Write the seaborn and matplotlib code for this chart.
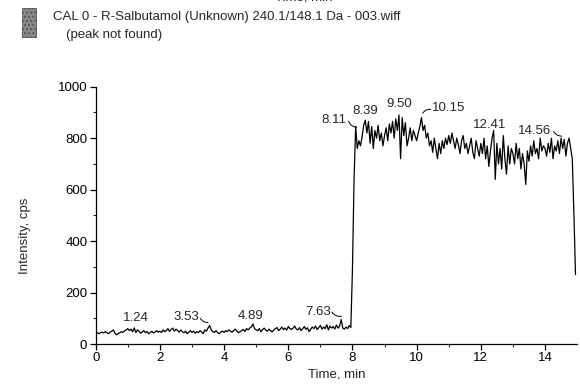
import numpy as np
import pandas as pd
import matplotlib
matplotlib.use("Agg")
import matplotlib.pyplot as plt
import seaborn as sns
from matplotlib.patches import Rectangle

# ---- data ----
scan_start = 0.0
scan_step = 0.05
intensity = [
    # 0-1 min
    42, 45, 40, 44, 46, 43, 48, 44, 40, 46, 50, 55, 42, 36, 40, 44, 48, 45, 52, 55,
    # 1-2
    60, 52, 58, 48, 63, 45, 55, 50, 42, 47, 52, 44, 49, 40, 45, 50, 43, 47, 52, 46,
    # 2-3
    50, 45, 55, 48, 52, 60, 49, 57, 62, 50, 58, 53, 46, 55, 48, 44, 50, 40, 46, 52,
    # 3-4
    45, 50, 42, 48, 44, 52, 47, 40, 55, 50, 62, 72, 55, 48, 45, 52, 44, 40, 47, 50,
    # 4-5
    45, 52, 48, 55, 50, 46, 53, 58, 50, 44, 48, 52, 57, 49, 60, 55, 62, 66, 78, 60,
    # 5-6
    55, 52, 60, 48, 56, 62, 54, 50, 58, 52, 47, 55, 60, 64, 52, 58, 66, 56, 62, 54,
    # 6-7
    68, 60, 57, 62, 70, 58, 55, 64, 52, 60, 68, 57, 63, 48, 58, 66, 60, 70, 56, 64,
    # 7-8
    72, 58, 66, 60, 75, 55, 70, 62, 68, 58, 74, 62, 70, 95, 62, 58, 66, 60, 72, 64,
    # 8-9
    290, 640, 845, 760, 790, 770, 805, 850, 870, 820, 865, 780, 845, 760, 830, 800, 850, 790, 820, 770,
    # 9-10
    810, 840, 790, 855, 820, 865, 800, 875, 830, 890, 720, 880, 810, 860, 770, 800, 840, 790, 830, 810,
    # 10-11
    790, 820, 845, 880, 830, 850, 800, 820, 770, 790, 745, 800, 760, 720, 780, 740, 790, 760, 800, 775,
    # 11-12
    810, 780, 820, 790, 760, 800, 775, 740, 790, 810, 760, 780, 740, 770, 800, 745, 720, 790, 760, 730,
    # 12-13
    780, 740, 800, 720, 770, 690, 750, 800, 830, 640, 780, 700, 760, 680, 810, 720, 660, 770, 700, 760,
    # 13-14
    740, 700, 780, 720, 760, 680, 740, 700, 620, 750, 710, 770, 730, 790, 740, 760, 720, 800, 750, 770,
    # 14-15
    760, 730, 780, 745, 800, 720, 770, 750, 790, 740, 800, 760, 795, 730, 780, 800, 760, 720, 510, 270,
]
time_min = scan_start + scan_step * np.arange(len(intensity))

peak_labels = ["1.24", "3.53", "4.89", "7.63", "8.11", "8.39", "9.50", "10.15", "12.41", "14.56"]
peak_times = [1.24, 3.53, 4.89, 7.63, 8.11, 8.39, 9.50, 10.15, 12.41, 14.56]
peak_heights = [65, 72, 78, 95, 845, 870, 890, 880, 830, 800]

# label placement (data coords of label centre) and connector ticks
label_x = [1.26, 2.81, 4.84, 6.94, 7.42, 8.39, 9.45, 11.00, 12.29, 13.68]
label_y = [101, 105, 110, 126, 869, 904, 933, 917, 852, 826]
connector = [False, True, False, True, True, False, False, True, False, True]
conn_from_x = [0, 3.26, 0, 7.36, 7.88, 0, 0, 10.44, 0, 14.27]
conn_from_y = [0, 100, 0, 124, 866, 0, 0, 912, 0, 826]
conn_to_x = [0, 3.50, 0, 7.66, 8.13, 0, 0, 10.19, 0, 14.52]
conn_to_y = [0, 84, 0, 108, 842, 0, 0, 897, 0, 808]

df = pd.DataFrame({"Time, min": time_min, "Intensity, cps": intensity})

# ---- figure ----
sns.set_style("ticks")
plt.rcParams["font.family"] = ["Liberation Sans", "DejaVu Sans"]

fig = plt.figure(figsize=(5.8, 3.87), dpi=100)
ax = fig.add_axes([0.165, 0.111, 0.830, 0.665])

sns.lineplot(data=df, x="Time, min", y="Intensity, cps", ax=ax,
             color="black", linewidth=0.9, estimator=None)

ax.set_xlim(0, 15)
ax.set_ylim(0, 1000)
ax.set_xticks(np.arange(0, 15, 2))
ax.set_xticks(np.arange(1, 15, 2), minor=True)
ax.set_yticks(np.arange(0, 1001, 200))
ax.set_yticks(np.arange(100, 1000, 200), minor=True)
ax.tick_params(axis="both", which="major", direction="out", length=4, width=0.9,
               labelsize=9.5, colors="black", pad=2)
ax.tick_params(axis="both", which="minor", direction="out", length=2, width=0.8)
for side in ["top", "right"]:
    ax.spines[side].set_visible(False)
for side in ["left", "bottom"]:
    ax.spines[side].set_linewidth(0.9)
    ax.spines[side].set_color("black")

ax.set_xlabel("Time, min", fontsize=9.5, labelpad=3)
ax.set_ylabel("Intensity, cps", fontsize=9.5)
ax.yaxis.set_label_coords(-0.135, 0.42)

for i, lab in enumerate(peak_labels):
    ax.text(label_x[i], label_y[i], lab, ha="center", va="center", fontsize=9.5)
    if connector[i]:
        ax.annotate("", xy=(conn_to_x[i], conn_to_y[i]),
                    xytext=(conn_from_x[i], conn_from_y[i]),
                    arrowprops=dict(arrowstyle="-", color="black", lw=0.7,
                                    shrinkA=0, shrinkB=0,
                                    connectionstyle="arc3,rad=0.3"),
                    annotation_clip=False)

# legend / header
fig.patches.append(Rectangle((22 / 580, 1 - 37 / 387), 14 / 580, 29 / 387,
                             transform=fig.transFigure, facecolor="#8a8a8a",
                             edgecolor="#555555", hatch="....", linewidth=0.6))
fig.text(53 / 580, 1 - 17 / 387,
         "CAL 0 - R-Salbutamol (Unknown) 240.1/148.1 Da - 003.wiff",
         ha="left", va="center", fontsize=9.5)
fig.text(66 / 580, 1 - 35 / 387, "(peak not found)",
         ha="left", va="center", fontsize=9.5)
# partially visible axis title of the panel above (cut off in the reference)
fig.text(304 / 580, 1 + 2 / 387, "Time, min", ha="center", va="center", fontsize=9.5)

fig.savefig("out.png", dpi=100)
